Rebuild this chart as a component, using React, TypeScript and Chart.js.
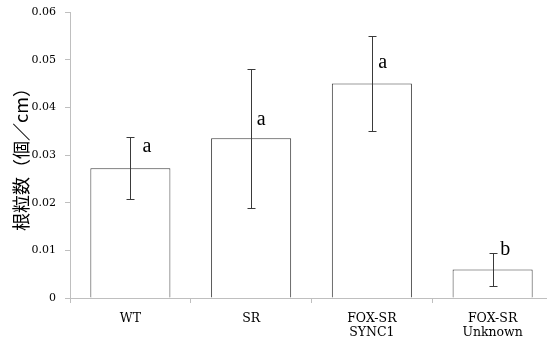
import React, { useEffect, useRef } from "react";
import { Chart, registerables } from "chart.js";

Chart.register(...registerables);

// ---- data ----
const categories: string[][] = [["WT"], ["SR"], ["FOX-SR", "SYNC1"], ["FOX-SR", "Unknown"]];
const means: number[] = [0.0272, 0.0335, 0.045, 0.006];
const errors: number[] = [0.0065, 0.0146, 0.01, 0.0034];
const letters: string[] = ["a", "a", "a", "b"];
const letterValues: number[] = [0.0317, 0.0375, 0.0494, 0.0101];
const letterCategoryOffset: number[] = [0.1, 0.047, 0.052, 0.064];
const yTicks: number[] = [0, 0.01, 0.02, 0.03, 0.04, 0.05, 0.06];
const yTitle = "根粒数（個／cm）";

const AXIS = "#bfbfbf";
const INK = "#3a3a3a";
const SERIF = "'Liberation Serif', 'Times New Roman', serif";
const WIDE_SERIF = "'DejaVu Serif', serif";

const overlayPlugin = {
  id: "errorBarsAndLetters",
  afterDatasetsDraw(chart: any) {
    const { ctx, scales } = chart;
    const x = scales.x;
    const y = scales.y;
    ctx.save();
    ctx.strokeStyle = INK;
    ctx.lineWidth = 1;
    means.forEach((m, i) => {
      const px = Math.round(x.getPixelForValue(i)) + 0.5;
      const yt = Math.round(y.getPixelForValue(m + errors[i])) + 0.5;
      const yb = Math.round(y.getPixelForValue(m - errors[i])) + 0.5;
      ctx.beginPath();
      ctx.moveTo(px, yt);
      ctx.lineTo(px, yb);
      ctx.moveTo(px - 4, yt);
      ctx.lineTo(px + 4, yt);
      ctx.moveTo(px - 4, yb);
      ctx.lineTo(px + 4, yb);
      ctx.stroke();
    });
    ctx.fillStyle = "#000";
    ctx.font = `20px ${SERIF}`;
    ctx.textAlign = "left";
    ctx.textBaseline = "middle";
    const catW = x.getPixelForValue(1) - x.getPixelForValue(0);
    letters.forEach((t, i) => {
      const px = x.getPixelForValue(i) + letterCategoryOffset[i] * catW;
      const py = y.getPixelForValue(letterValues[i]);
      ctx.fillText(t, px, py);
    });
    ctx.restore();
  },
};

export default function App() {
  const ref = useRef<HTMLCanvasElement | null>(null);
  useEffect(() => {
    if (!ref.current) return;
    const chart = new Chart(ref.current, {
      type: "bar",
      data: {
        labels: categories as any,
        datasets: [
          {
            data: means,
            backgroundColor: "#ffffff",
            borderColor: INK,
            borderWidth: 1,
            barPercentage: 0.663,
            categoryPercentage: 1,
          },
        ],
      },
      options: {
        responsive: false,
        animation: false,
        layout: { padding: { top: 12, left: 0, right: 0, bottom: 0 } },
        plugins: {
          legend: { display: false },
          tooltip: { enabled: false },
          title: { display: false },
        },
        scales: {
          x: {
            grid: { drawOnChartArea: false, color: AXIS, tickLength: 5, offset: true },
            border: { display: true, color: AXIS },
            ticks: {
              color: "#000",
              font: { family: WIDE_SERIF, size: 12.5, lineHeight: 1.1 },
              padding: 9,
              maxRotation: 0,
              autoSkip: false,
            },
            afterFit: (s: any) => {
              s.height = 41;
              s.paddingLeft = 0;
              s.paddingRight = 0;
            },
          },
          y: {
            min: 0,
            max: 0.06,
            afterBuildTicks: (s: any) => {
              s.ticks = yTicks.map((v) => ({ value: v }));
            },
            grid: { drawOnChartArea: false, color: AXIS, tickLength: 5 },
            border: { display: true, color: AXIS },
            ticks: {
              color: "#000",
              font: { family: WIDE_SERIF, size: 11 },
              padding: 9,
              callback: (v: any) => (Number(v) === 0 ? "0" : Number(v).toFixed(2)),
            },
            title: {
              display: true,
              text: yTitle,
              color: "#000",
              font: { family: "'Noto Sans CJK JP', sans-serif", size: 18 },
              padding: { top: 10, bottom: 0 },
            },
            afterFit: (s: any) => {
              s.width = 70;
              s.paddingTop = 0;
              s.paddingBottom = 0;
            },
          },
        },
      },
      plugins: [overlayPlugin],
    });
    return () => chart.destroy();
  }, []);
  return (
    <div
      style={{
        position: "fixed",
        left: 0,
        top: 0,
        width: 547,
        height: 339,
        overflow: "hidden",
        background: "#fff",
      }}
    >
      <canvas ref={ref} width={553} height={339} style={{ display: "block" }} />
    </div>
  );
}
